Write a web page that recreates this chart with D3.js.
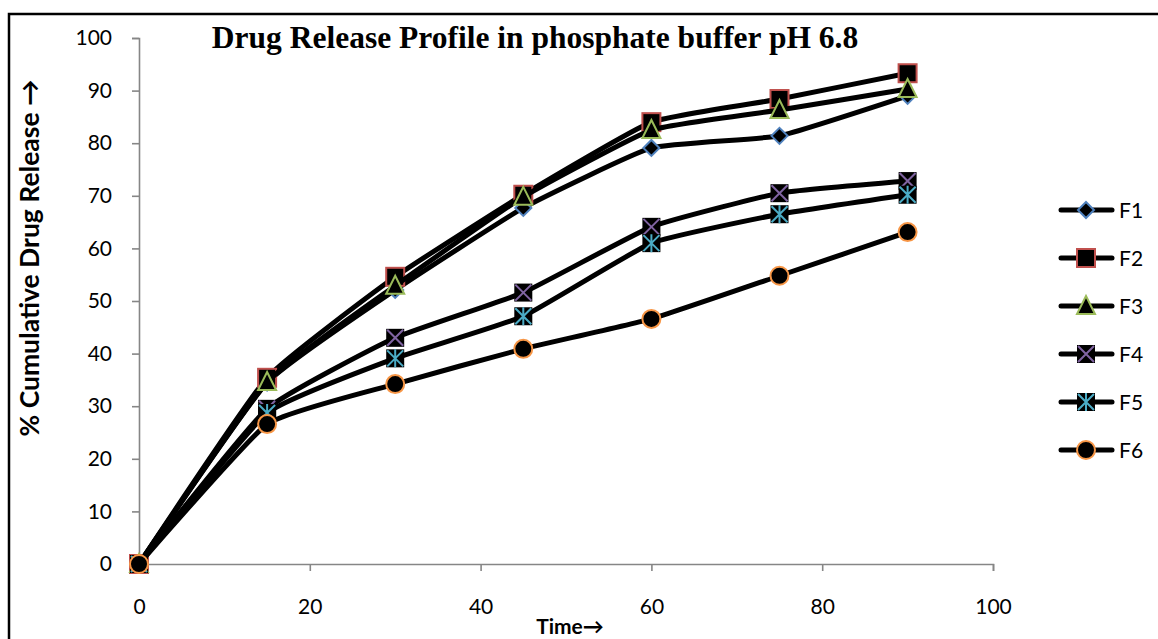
<!DOCTYPE html>
<html>
<head>
<meta charset="utf-8">
<script src="https://cdn.jsdelivr.net/npm/d3@7"></script>
<style>
  html, body { margin: 0; padding: 0; background: #fff; }
  svg { display: block; }
</style>
</head>
<body>
<div id="chart"></div>
<script>
// data
const times = [0, 15, 30, 45, 60, 75, 90];
const F1 = [0, 34.5, 52.1, 67.7, 79.1, 81.4, 89.0];
const F2 = [0, 35.4, 54.6, 70.2, 84.0, 88.4, 93.3];
const F3 = [0, 34.6, 52.9, 69.8, 82.5, 86.3, 90.3];
const F4 = [0, 29.5, 43.0, 51.6, 64.1, 70.5, 72.8];
const F5 = [0, 28.7, 39.1, 47.1, 61.0, 66.5, 70.2];
const F6 = [0, 26.6, 34.2, 40.9, 46.6, 54.8, 63.1];
const seriesNames = ['F1', 'F2', 'F3', 'F4', 'F5', 'F6'];
const xTicks = [0, 20, 40, 60, 80, 100];
const yTicks = [0, 10, 20, 30, 40, 50, 60, 70, 80, 90, 100];

var state = {
    width: 1158,
    height: 639,
    axisColor: '#868686',
    lineColor: '#000000',
    markColors: ['#4F81BD', '#C0504D', '#9BBB59', '#8064A2', '#4BACC6', '#F79646'],
    markers: ['diamond', 'square', 'triangle', 'x', 'star', 'circle'],
    labelFont: 'Lato, "Open Sans", sans-serif'
};

const allSeries = [F1, F2, F3, F4, F5, F6].map((vals, i) => ({
    name: seriesNames[i],
    color: state.markColors[i],
    marker: state.markers[i],
    points: vals.map((v, j) => [times[j], v])
}));

let svg = d3.select('#chart')
    .append('svg')
        .attr('width', state.width)
        .attr('height', state.height);

// outer frame (runs past the right and bottom edges)
svg.append('rect')
    .attr('x', 9).attr('y', 14)
    .attr('width', 1200).attr('height', 700)
    .attr('fill', 'none')
    .attr('stroke', '#000')
    .attr('stroke-width', 2.5);

let x = d3.scaleLinear().domain([0, 100]).range([139, 993]);
let y = d3.scaleLinear().domain([0, 100]).range([564, 38]);

//Axes
let xAxis = svg.append('g')
    .attr('transform', `translate(0,${y(0)})`)
    .call(d3.axisBottom(x).tickValues(xTicks).tickSize(7).tickPadding(28).tickSizeOuter(7));
let yAxis = svg.append('g')
    .attr('transform', `translate(${x(0)},0)`)
    .call(d3.axisLeft(y).tickValues(yTicks).tickSize(7).tickPadding(20).tickSizeOuter(7));

[xAxis, yAxis].forEach(a => {
    a.selectAll('path, line')
        .attr('stroke', state.axisColor)
        .attr('stroke-width', 1.6);
    a.selectAll('text')
        .attr('fill', '#000')
        .style('font-family', state.labelFont)
        .style('font-size', '21px');
});

// title
svg.append('text')
    .attr('x', 535).attr('y', 48)
    .attr('text-anchor', 'middle')
    .style('font-family', '"Liberation Serif", "Times New Roman", serif')
    .style('font-weight', 'bold')
    .style('font-size', '31.5px')
    .text('Drug Release Profile in phosphate buffer pH 6.8');

// axis titles
svg.append('text')
    .attr('transform', 'translate(39,258) rotate(-90)')
    .attr('text-anchor', 'middle')
    .style('font-family', state.labelFont)
    .style('font-weight', 'bold')
    .style('font-size', '26.5px')
    .text('% Cumulative Drug Release \u2192');

svg.append('text')
    .attr('x', 570).attr('y', 634)
    .attr('text-anchor', 'middle')
    .style('font-family', state.labelFont)
    .style('font-weight', 'bold')
    .style('font-size', '21px')
    .text('Time\u2192');

/**
Draws one marker centred on 0,0 inside the given group
*/
function drawMarker(g, type, color){
    switch(type){
        case 'diamond':
            g.append('path').attr('d', 'M0,-8L8,0L0,8L-8,0Z')
                .attr('fill', '#000').attr('stroke', color).attr('stroke-width', 2);
            break;
        case 'square':
            g.append('rect').attr('x', -9).attr('y', -9).attr('width', 18).attr('height', 18)
                .attr('fill', '#000').attr('stroke', color).attr('stroke-width', 2);
            break;
        case 'triangle':
            g.append('path').attr('d', 'M0,-10L9,8L-9,8Z')
                .attr('fill', '#000').attr('stroke', color).attr('stroke-width', 2);
            break;
        case 'x':
            g.append('rect').attr('x', -9).attr('y', -9).attr('width', 18).attr('height', 18)
                .attr('fill', '#000');
            g.append('path').attr('d', 'M-8,-8L8,8M8,-8L-8,8')
                .attr('stroke', color).attr('stroke-width', 2);
            break;
        case 'star':
            g.append('rect').attr('x', -9).attr('y', -9).attr('width', 18).attr('height', 18)
                .attr('fill', '#000');
            g.append('path').attr('d', 'M-8,-8L8,8M8,-8L-8,8M0,-9L0,9')
                .attr('stroke', color).attr('stroke-width', 2);
            break;
        case 'circle':
            g.append('circle').attr('r', 9)
                .attr('fill', '#000').attr('stroke', color).attr('stroke-width', 2);
            break;
        default: return;
    }
}

let line = d3.line()
    .x(d => x(d[0]))
    .y(d => y(d[1]))
    .curve(d3.curveCardinal.tension(0.6));

let plot = svg.append('g');
allSeries.forEach(s => {
    let sg = plot.append('g').attr('class', 'series');
    sg.append('path')
        .datum(s.points)
        .attr('d', line)
        .attr('fill', 'none')
        .attr('stroke', state.lineColor)
        .attr('stroke-width', 5)
        .attr('stroke-linejoin', 'round')
        .attr('stroke-linecap', 'round');
    sg.selectAll('g.mark')
        .data(s.points)
        .enter()
        .append('g')
            .attr('class', 'mark')
            .attr('transform', d => `translate(${x(d[0])},${y(d[1])})`)
            .each(function(){ drawMarker(d3.select(this), s.marker, s.color); });
});

//Legend
let legend = svg.append('g');
let legendY = d3.scalePoint().domain(seriesNames).range([210, 450]);
allSeries.forEach(s => {
    let lg = legend.append('g')
        .attr('transform', `translate(0,${legendY(s.name)})`);
    lg.append('line')
        .attr('x1', 1061).attr('x2', 1112)
        .attr('stroke', state.lineColor)
        .attr('stroke-width', 5)
        .attr('stroke-linecap', 'round');
    let m = lg.append('g').attr('transform', 'translate(1086,0)');
    drawMarker(m, s.marker, s.color);
    lg.append('text')
        .attr('x', 1119).attr('y', 8)
        .style('font-family', state.labelFont)
        .style('font-size', '21px')
        .text(s.name);
});
</script>
</body>
</html>
